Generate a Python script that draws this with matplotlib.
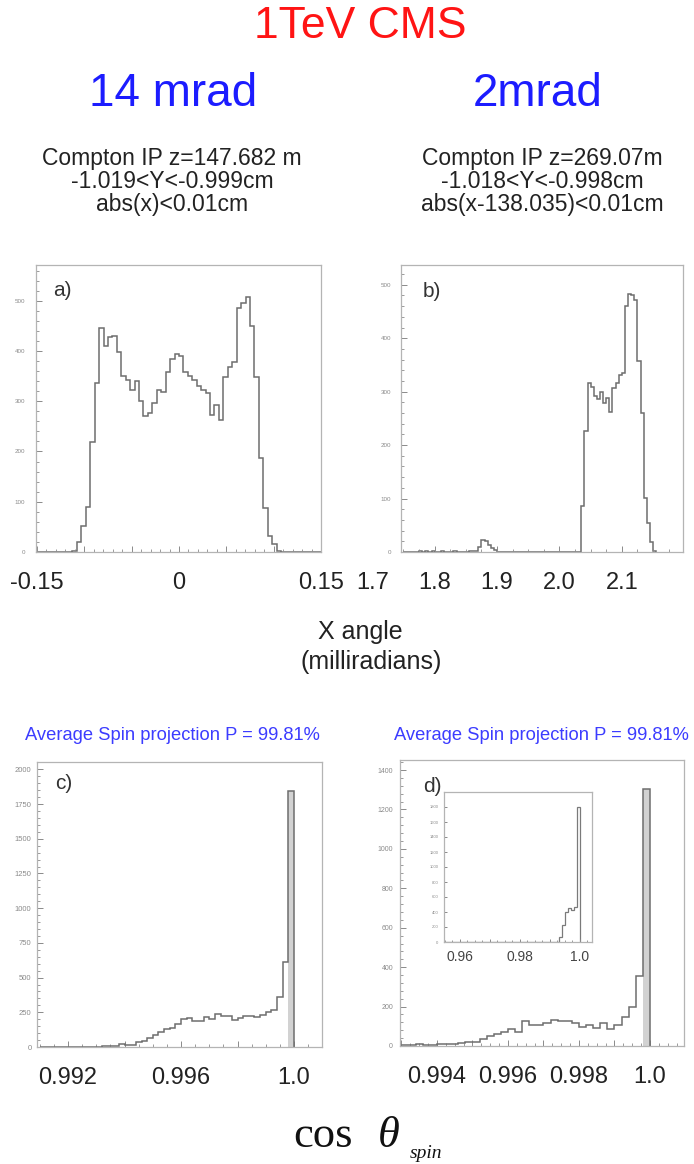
import numpy as np
import matplotlib
matplotlib.use('Agg')
import matplotlib.pyplot as plt
from matplotlib.ticker import MultipleLocator
from matplotlib.transforms import offset_copy

plt.rcParams['font.family'] = ['Liberation Sans', 'DejaVu Sans']

# ---- data ----
# a) 14 mrad, X angle (mrad), 64 bins over [-0.15, 0.15]
a_start, a_width = -0.15, 0.3 / 64
a_counts = [0, 0, 0, 0, 0, 0, 0, 0, 2,
            20, 51, 89, 218, 336, 445, 410, 427, 430, 398,
            350, 342, 322, 341, 301, 271, 276, 297, 322, 319,
            359, 383, 394, 389, 358, 350, 342, 330, 322, 316,
            273, 293, 263, 348, 369, 379, 485, 495, 508, 450,
            349, 187, 87, 31, 15, 1,
            0, 0, 0, 0, 0, 0, 0, 0, 0]
a_ticks = [-0.15, 0, 0.15]
a_ticklabels = ['-0.15', '0', '0.15']

# b) 2 mrad, X angle (mrad)
b_start, b_width = 1.750, 0.005
b_counts = ([0, 0, 0, 0, 0, 1, 0, 1, 0, 1, 0, 0, 1, 0, 0, 0, 1, 0, 0, 0, 0, 1, 1]
            + [2, 9, 23, 20, 14, 8, 4]
            + [0] * 27
            + [87, 226, 316, 309, 291, 287, 299, 279, 288, 262, 307, 316,
               332, 335, 461, 483, 481, 472, 357, 261, 101, 55, 18, 1])
b_ticks = [1.7, 1.8, 1.9, 2.0, 2.1]
b_ticklabels = ['1.7', '1.8', '1.9', '2.0', '2.1']

# c) 14 mrad, cos(theta_spin)
c_start, c_width = 0.991, 0.0002
c_counts = [0, 1, 0, 2, 0, 1, 0, 0, 1,
            3, 3, 4, 5, 6, 24, 17, 17, 34, 45,
            65, 85, 105, 128, 140, 165, 200, 210, 185, 190,
            215, 205, 238, 225, 220, 195, 210, 220, 222, 215,
            228, 255, 270, 360, 610, 1845]
c_ticks = [0.992, 0.996, 1.0]
c_ticklabels = ['0.992', '0.996', '1.0']

# d) 2 mrad, cos(theta_spin)
d_start, d_width = 0.993, 0.0002
d_counts = [5, 3, 8, 4, 6, 10, 8, 12, 15, 20, 20, 37, 49, 62, 70, 87, 70,
            126, 109, 109, 116, 133, 126, 129, 116, 96, 109, 92, 116, 87,
            109, 146, 200, 355, 1305]
d_ticks = [0.994, 0.996, 0.998, 1.0]
d_ticklabels = ['0.994', '0.996', '0.998', '1.0']

# d) inset, wider range
i_start, i_width = 0.955, 0.001
i_counts = ([0] * 20 + [1, 0, 2, 0, 1, 2, 0, 1, 0, 2, 1, 0, 0, 1, 0, 0, 0, 2]
            + [67, 222, 400, 455, 430, 470, 1800])
i_yticks = [0, 200, 400, 600, 800, 1000, 1200, 1400, 1600, 1800]
i_ticks = [0.96, 0.98, 1.0]
i_ticklabels = ['0.96', '0.98', '1.0']

spin_text = 'Average Spin projection P = 99.81%'

W, H = 694, 1164
fig = plt.figure(figsize=(W / 100, H / 100), dpi=100)


def box(l, t, r, b):
    return [l / W, 1 - b / H, (r - l) / W, (b - t) / H]


def fy(y):
    return 1 - y / H


def edges(start, width, counts):
    return start + width * np.arange(len(counts) + 1)


def style(ax, ysize, ypad):
    for s in ax.spines.values():
        s.set_color('#b4b4b4')
        s.set_linewidth(0.9)
    ax.tick_params(which='both', direction='in', top=False, right=False,
                   colors='#8a8a8a', labelbottom=False, labelsize=ysize, pad=ypad)
    ax.tick_params(which='major', length=4, width=0.7)
    ax.tick_params(which='minor', length=2, width=0.6)


def big_labels(ax, vals, texts, dy=31, size=17, color='#222222'):
    tr = offset_copy(ax.get_xaxis_transform(), fig=fig, y=-dy, units='dots')
    for v, t in zip(vals, texts):
        ax.text(v, 0, t, transform=tr, ha='center', va='center', fontsize=size,
                color=color, clip_on=False)


line = dict(color='#6e6e6e', lw=1.1)

# ---- a ----
ax = fig.add_axes(box(36, 265, 321, 552))
ax.stairs(a_counts, edges(a_start, a_width, a_counts), **line)
ax.set_xlim(-0.151, 0.150)
ax.set_ylim(0, 571)
ax.xaxis.set_major_locator(MultipleLocator(0.05))
ax.xaxis.set_minor_locator(MultipleLocator(0.01))
ax.yaxis.set_major_locator(MultipleLocator(100))
ax.yaxis.set_minor_locator(MultipleLocator(20))
style(ax, 4.5, 8)
big_labels(ax, a_ticks, a_ticklabels)
ax.text(0.06, 0.91, 'a)', transform=ax.transAxes, fontsize=15, color='#333333', va='center')

# ---- b ----
ax = fig.add_axes(box(401, 265, 683, 552))
ax.stairs(b_counts, edges(b_start, b_width, b_counts), **line)
ax.set_xlim(1.746, 2.198)
ax.set_ylim(0, 537)
ax.xaxis.set_major_locator(MultipleLocator(0.1))
ax.xaxis.set_minor_locator(MultipleLocator(0.025))
ax.yaxis.set_major_locator(MultipleLocator(100))
ax.yaxis.set_minor_locator(MultipleLocator(20))
style(ax, 4.5, 7)
big_labels(ax, b_ticks, b_ticklabels)
ax.text(0.078, 0.906, 'b)', transform=ax.transAxes, fontsize=15, color='#333333', va='center')

# ---- c ----
ax = fig.add_axes(box(37, 762, 322, 1047))
ce = edges(c_start, c_width, c_counts)
ax.bar(ce[-2], c_counts[-1], width=c_width, align='edge', color='#d2d2d2', lw=0, zorder=1)
ax.stairs(c_counts, ce, zorder=2, **line)
ax.set_xlim(0.9909, 1.00099)
ax.set_ylim(0, 2053)
ax.xaxis.set_major_locator(MultipleLocator(0.002))
ax.xaxis.set_minor_locator(MultipleLocator(0.0005))
ax.yaxis.set_major_locator(MultipleLocator(250))
ax.yaxis.set_minor_locator(MultipleLocator(50))
style(ax, 5.5, 4)
big_labels(ax, c_ticks, c_ticklabels)
ax.text(0.063, 0.926, 'c)', transform=ax.transAxes, fontsize=15, color='#333333', va='center')

# ---- d ----
ax = fig.add_axes(box(400, 760, 684, 1046))
de = edges(d_start, d_width, d_counts)
ax.bar(de[-2], d_counts[-1], width=d_width, align='edge', color='#d2d2d2', lw=0, zorder=1)
ax.stairs(d_counts, de, zorder=2, **line)
ax.set_xlim(0.99296, 1.00096)
ax.set_ylim(0, 1451)
ax.xaxis.set_major_locator(MultipleLocator(0.001))
ax.xaxis.set_minor_locator(MultipleLocator(0.00025))
ax.yaxis.set_major_locator(MultipleLocator(200))
ax.yaxis.set_minor_locator(MultipleLocator(40))
style(ax, 5, 5)
big_labels(ax, d_ticks, d_ticklabels)
ax.text(0.081, 0.906, 'd)', transform=ax.transAxes, fontsize=15, color='#333333', va='center')

# inset of d
ax = fig.add_axes(box(444, 792, 592, 942))
ax.stairs(i_counts, edges(i_start, i_width, i_counts), color='#7a7a7a', lw=0.9)
ax.set_xlim(0.9548, 1.0041)
ax.set_ylim(0, 2000)
ax.xaxis.set_major_locator(MultipleLocator(0.01))
ax.xaxis.set_minor_locator(MultipleLocator(0.0025))
ax.set_yticks(i_yticks)
style(ax, 3, 4)
ax.tick_params(which='major', length=2.5)
ax.tick_params(which='minor', length=1.5)
big_labels(ax, i_ticks, i_ticklabels, dy=15, size=10, color='#444444')

# ---- slide texts ----
fig.text(360 / W, fy(27), '1TeV CMS', ha='center', va='center', fontsize=32, color='#ff1414')
fig.text(173 / W, fy(94), '14 mrad', ha='center', va='center', fontsize=33, color='#1c1cff')
fig.text(538 / W, fy(94), '2mrad', ha='center', va='center', fontsize=33, color='#1c1cff')

left_info = ['Compton IP z=147.682 m', '-1.019<Y<-0.999cm', 'abs(x)<0.01cm']
right_info = ['Compton IP z=269.07m', '-1.018<Y<-0.998cm', 'abs(x-138.035)<0.01cm']
for y, tl, tr in zip([158, 181, 205], left_info, right_info):
    fig.text(172 / W, fy(y), tl, ha='center', va='center', fontsize=16.5, color='#222222')
    fig.text(542 / W, fy(y), tr, ha='center', va='center', fontsize=16.5, color='#222222')

fig.text(360 / W, fy(632), 'X angle', ha='center', va='center', fontsize=18, color='#222222')
fig.text(371 / W, fy(662), '(milliradians)', ha='center', va='center', fontsize=18, color='#222222')

fig.text(172 / W, fy(735), spin_text, ha='center', va='center', fontsize=13.2, color='#3c3cff')
fig.text(541 / W, fy(735), spin_text, ha='center', va='center', fontsize=13.2, color='#3c3cff')

serif = ['Liberation Serif', 'DejaVu Serif']
fig.text(293 / W, fy(1147), 'cos', ha='left', va='baseline', fontsize=32, family=serif, color='#111111')
fig.text(378 / W, fy(1147), 'θ', ha='left', va='baseline', fontsize=32, family=serif,
         style='italic', color='#111111')
fig.text(410 / W, fy(1158), 'spin', ha='left', va='baseline', fontsize=14, family=serif,
         style='italic', color='#111111')

fig.savefig('out.png', dpi=100)
